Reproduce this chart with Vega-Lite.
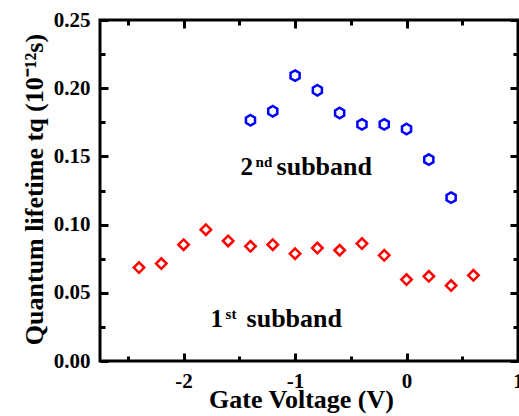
{
  "$schema": "https://vega.github.io/schema/vega-lite/v6.json",
  "autosize": "none",
  "width": 418,
  "height": 341,
  "padding": {"left": 100, "top": 20, "right": 1, "bottom": 55},
  "background": "white",
  "config": {
    "view": {"stroke": "black", "strokeWidth": 3},
    "font": "Liberation Serif, Times New Roman, serif",
    "axis": {
      "domain": false,
      "tickWidth": 3,
      "tickColor": "black",
      "labelFont": "Liberation Serif, Times New Roman, serif",
      "labelFontWeight": "bold",
      "labelFontSize": 21,
      "labelColor": "black",
      "labelFlush": false,
      "labelOverlap": false,
      "labelBound": false,
      "titleFont": "Liberation Serif, Times New Roman, serif",
      "titleFontWeight": "bold",
      "titleColor": "black",
      "grid": false
    }
  },
  "datasets": {
    "first": [
      {"v": -2.4, "t": 0.0685},
      {"v": -2.2, "t": 0.0714},
      {"v": -2.0, "t": 0.0853},
      {"v": -1.8, "t": 0.0963},
      {"v": -1.6, "t": 0.088},
      {"v": -1.4, "t": 0.0841},
      {"v": -1.2, "t": 0.0853},
      {"v": -1.0, "t": 0.0787},
      {"v": -0.8, "t": 0.0828},
      {"v": -0.6, "t": 0.0812},
      {"v": -0.4, "t": 0.0861},
      {"v": -0.2, "t": 0.0775},
      {"v": 0.0, "t": 0.0597},
      {"v": 0.2, "t": 0.0621},
      {"v": 0.4, "t": 0.0553},
      {"v": 0.6, "t": 0.0628}
    ],
    "second": [
      {"v": -1.4, "t": 0.1765},
      {"v": -1.2, "t": 0.1831},
      {"v": -1.0, "t": 0.2092},
      {"v": -0.8, "t": 0.1985},
      {"v": -0.6, "t": 0.1818},
      {"v": -0.4, "t": 0.1735},
      {"v": -0.2, "t": 0.1735},
      {"v": 0.0, "t": 0.1701},
      {"v": 0.2, "t": 0.1477},
      {"v": 0.4, "t": 0.1198}
    ],
    "notes": [
      {"v": -1.489, "t": 0.1361, "num": "2", "sup": "nd", "word": "subband"},
      {"v": -1.758, "t": 0.0249, "num": "1", "sup": "st", "word": "subband"}
    ]
  },
  "resolve": {"axis": {"x": "independent", "y": "independent"}},
  "layer": [
    {
      "data": {"name": "first"},
      "mark": {"type": "point", "shape": "diamond", "filled": false, "stroke": "#ff0000", "strokeWidth": 2.5, "size": 110, "opacity": 1},
      "encoding": {
        "x": {
          "field": "v", "type": "quantitative",
          "scale": {"domain": [-2.75, 1], "nice": false, "zero": false},
          "axis": {
            "orient": "bottom",
            "offset": -8,
            "values": [-2, -1, 0, 1],
            "tickSize": 8,
            "tickColor": "black",
            "labelPadding": 9,
            "labelExpr": "'' + datum.value",
            "title": "Gate Voltage (V)",
            "titleFontSize": 26,
            "titleX": 201,
            "titleY": 54,
            "titleBaseline": "alphabetic"
          }
        },
        "y": {
          "field": "t", "type": "quantitative",
          "scale": {"domain": [0, 0.25], "nice": false, "zero": false},
          "axis": {
            "orient": "left",
            "offset": -8,
            "values": [0, 0.05, 0.1, 0.15, 0.2, 0.25],
            "tickSize": 8,
            "tickColor": "black",
            "labelPadding": 10,
            "labelExpr": "format(datum.value, '.2f')",
            "title": "Quantum lifetime tq (10⁻¹²s)",
            "titleFontSize": 26,
            "titleX": -66,
            "titleY": 169,
            "titleAngle": -90,
            "titleAlign": "center",
            "titleBaseline": "alphabetic"
          }
        }
      }
    },
    {
      "data": {"name": "second"},
      "mark": {"type": "point", "shape": "M0,-1L0.866,-0.5L0.866,0.5L0,1L-0.866,0.5L-0.866,-0.5Z", "filled": false, "stroke": "#0000ff", "strokeWidth": 2.5, "size": 110, "opacity": 1},
      "encoding": {
        "x": {
          "field": "v", "type": "quantitative",
          "axis": {"orient": "top", "offset": -8, "values": [-2, -1, 0, 1], "tickSize": 8, "tickColor": "black", "labels": false, "title": null}
        },
        "y": {
          "field": "t", "type": "quantitative",
          "axis": {"orient": "right", "offset": -8, "values": [0, 0.05, 0.1, 0.15, 0.2, 0.25], "tickSize": 8, "tickColor": "black", "labels": false, "title": null}
        }
      }
    },
    {
      "data": {"name": "notes"},
      "mark": {"type": "text", "align": "left", "baseline": "alphabetic", "fontSize": 25, "fontWeight": "bold", "color": "black"},
      "encoding": {
        "x": {"field": "v", "type": "quantitative", "axis": {"orient": "bottom", "offset": -5, "values": [-2.5, -1.5, -0.5, 0.5], "tickSize": 5, "tickColor": "black", "labels": false, "title": null}},
        "y": {"field": "t", "type": "quantitative", "axis": {"orient": "left", "offset": -5, "values": [0.025, 0.075, 0.125, 0.175, 0.225], "tickSize": 5, "tickColor": "black", "labels": false, "title": null}},
        "text": {"field": "num"}
      }
    },
    {
      "data": {"name": "notes"},
      "mark": {"type": "text", "align": "left", "baseline": "alphabetic", "fontSize": 15, "fontWeight": "bold", "color": "black", "dx": 15, "dy": -8},
      "encoding": {
        "x": {"field": "v", "type": "quantitative", "axis": {"orient": "top", "offset": -5, "values": [-2.5, -1.5, -0.5, 0.5], "tickSize": 5, "tickColor": "black", "labels": false, "title": null}},
        "y": {"field": "t", "type": "quantitative", "axis": {"orient": "right", "offset": -5, "values": [0.025, 0.075, 0.125, 0.175, 0.225], "tickSize": 5, "tickColor": "black", "labels": false, "title": null}},
        "text": {"field": "sup"}
      }
    },
    {
      "data": {"name": "notes"},
      "mark": {"type": "text", "align": "left", "baseline": "alphabetic", "fontSize": 26, "fontWeight": "bold", "color": "black", "dx": 36},
      "encoding": {
        "x": {"field": "v", "type": "quantitative", "axis": null},
        "y": {"field": "t", "type": "quantitative", "axis": null},
        "text": {"field": "word"}
      }
    }
  ]
}
